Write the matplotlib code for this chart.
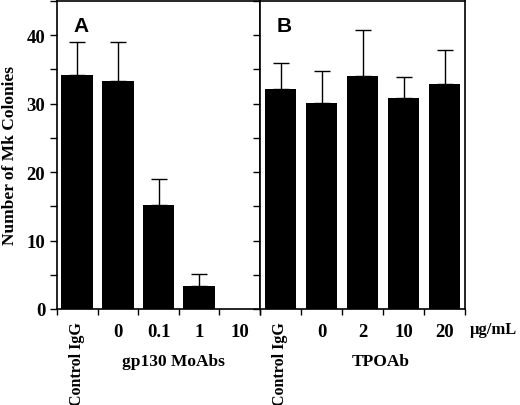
import numpy as np
import matplotlib
matplotlib.use('Agg')
import matplotlib.pyplot as plt
from matplotlib.ticker import MultipleLocator

# panel A: gp130 MoAbs
a_labels = ["Control IgG", "0", "0.1", "1", "10"]
a_values = [34.2, 33.3, 15.2, 3.3, 0.0]
a_err = [4.8, 5.7, 3.8, 1.8, 0.0]

# panel B: TPOAb
b_labels = ["Control IgG", "0", "2", "10", "20"]
b_values = [32.1, 30.1, 34.1, 30.9, 32.9]
b_err = [3.8, 4.7, 6.6, 3.0, 4.9]

serif = ['Liberation Serif', 'DejaVu Serif']
sans = ['Liberation Sans', 'DejaVu Sans']

fig = plt.figure(figsize=(5.2, 4.06), dpi=100)
axA = fig.add_axes([57/520, 1 - 310/406, 203/520, 308/406])
axB = fig.add_axes([260/520, 1 - 310/406, 205/520, 308/406])


def draw(ax, labels, values, err, letter):
    x = np.arange(len(values))
    ax.bar(x, values, width=0.78, color='black', zorder=2)
    for xi, v, e in zip(x, values, err):
        if e > 0:
            ax.errorbar(xi, v, yerr=[[0], [e]], fmt='none', ecolor='black',
                        elinewidth=1.0, capsize=5.5, capthick=1.0, zorder=1)
    ax.set_xlim(-0.5, len(values) - 0.5)
    ax.set_ylim(0, 45)
    ax.yaxis.set_major_locator(MultipleLocator(10))
    ax.yaxis.set_minor_locator(MultipleLocator(5))
    ax.tick_params(axis='y', which='both', direction='out', length=5, width=1)
    ax.set_xticks(x)
    ax.set_xticks(np.arange(-0.5, len(values), 1.0), minor=True)
    ax.tick_params(axis='x', which='major', length=0, pad=10)
    ax.tick_params(axis='x', which='minor', direction='out', length=4, width=1)
    # first category label is written vertically, placed on its own
    ax.set_xticklabels([""] + labels[1:], family=serif, fontweight='bold',
                       fontsize=13.5)
    ax.text(x[0], -0.04, labels[0], transform=ax.get_xaxis_transform(),
            rotation=90, ha='center', va='top', family=serif,
            fontweight='bold', fontsize=11.5)
    for s in ax.spines.values():
        s.set_linewidth(1.2)
    ax.text(0.12, 0.92, letter, transform=ax.transAxes, family=sans,
            fontweight='bold', fontsize=15, ha='center', va='center')


draw(axA, a_labels, a_values, a_err, 'A')
draw(axB, b_labels, b_values, b_err, 'B')

for t in axA.get_yticklabels():
    t.set_fontfamily(serif)
    t.set_fontweight('bold')
    t.set_fontsize(13.5)
axB.tick_params(axis='y', which='both', labelleft=False)

axA.set_ylabel("Number of Mk Colonies", family=serif, fontweight='bold',
               fontsize=12.5, labelpad=6)

fig.text(173/520, 1 - 362/406, "gp130 MoAbs", family=serif, fontweight='bold',
         fontsize=12.5, ha='center', va='center')
fig.text(381/520, 1 - 362/406, "TPOAb", family=serif, fontweight='bold',
         fontsize=12.5, ha='center', va='center')
fig.text(470/520, 1 - 330/406, "\u03bcg/mL", family=serif, fontweight='bold',
         fontsize=12, ha='left', va='center')

fig.savefig("out.png", dpi=100)
